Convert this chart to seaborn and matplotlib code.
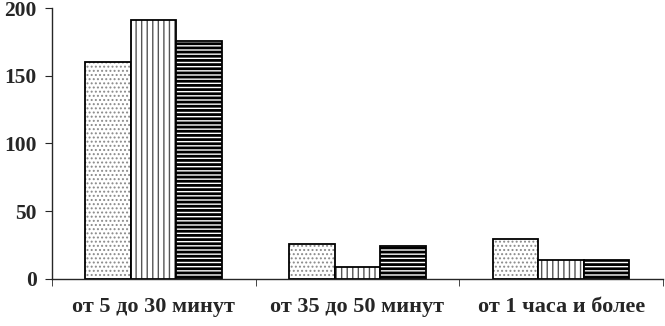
import pandas as pd
import numpy as np
import seaborn as sns
import matplotlib.pyplot as plt
import matplotlib.colors as mcolors
from matplotlib.ticker import FixedLocator

# данные
categories = ['от 5 до 30 минут', 'от 35 до 50 минут', 'от 1 часа и более']
series_names = ['Ряд 1', 'Ряд 2', 'Ряд 3']
ryad1 = [160, 26, 29]
ryad2 = [191, 9, 14]
ryad3 = [176, 24, 14]

sns.set_style('white')
plt.rcParams['font.family'] = ['Liberation Serif', 'DejaVu Serif']
plt.rcParams['hatch.linewidth'] = 1.0

df = pd.DataFrame({
    'категория': categories * 3,
    'ряд': [s for s in series_names for _ in categories],
    'значение': ryad1 + ryad2 + ryad3,
})

fig, ax = plt.subplots(figsize=(6.65, 3.26), dpi=100)
sns.barplot(data=df, x='категория', y='значение', hue='ряд',
            palette=['white'] * 3, edgecolor='black', linewidth=1.3,
            width=0.67, ax=ax, legend=False)

# штриховка: точки, вертикальные и горизонтальные линии
hatches = ['....', '|||', '----']
hcolors = ['#8a8a8a', '#555555', 'black']
hwidths = [0.9, 1.0, 2.0]
for cont, h, c, w in zip(ax.containers, hatches, hcolors, hwidths):
    for bar in cont:
        bar.set_hatch(h)
        try:
            bar.set_hatchcolor(c)
        except AttributeError:
            bar._hatch_color = mcolors.to_rgba(c)
        try:
            bar.set_hatch_linewidth(w)
        except AttributeError:
            bar._hatch_linewidth = w

ax.set_xlim(-0.5, 2.5)
ax.set_ylim(0, 200)
ax.set_yticks([0, 50, 100, 150, 200])
ax.set_xlabel('')
ax.set_ylabel('')
sns.despine(ax=ax)
ax.spines['left'].set_linewidth(1.0)
ax.spines['bottom'].set_linewidth(1.0)

ax.tick_params(axis='x', which='major', length=0, pad=13, labelsize=16)
ax.xaxis.set_minor_locator(FixedLocator([-0.5, 0.5, 1.5, 2.5]))
ax.tick_params(axis='x', which='minor', length=5, direction='out', bottom=True)
ax.tick_params(axis='y', length=5, direction='out', left=True, pad=6, labelsize=15.5)
for t in ax.get_xticklabels() + ax.get_yticklabels():
    t.set_fontweight('bold')

plt.subplots_adjust(left=0.078, right=0.997, top=0.975, bottom=0.145)
plt.savefig('out.png', dpi=100)
